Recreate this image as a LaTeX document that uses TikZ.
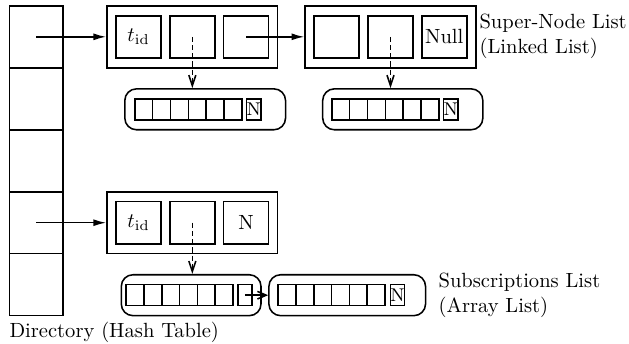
\documentclass[tikz,border=0pt]{standalone}
\usetikzlibrary{arrows.meta}

\tikzset{
    cell/.style={draw, minimum width=0.92cm, minimum height=1.06cm, inner sep=0pt},
    supernode/.style={draw, minimum width=2.92cm, minimum height=1.06cm, inner sep=0pt},
    slot/.style={draw, minimum width=0.77cm, minimum height=0.72cm, inner sep=0pt},
    arraylist/.style={draw, rounded corners=0.2cm, minimum height=0.70cm, inner sep=0pt},
    entry/.style={draw, minimum width=0.305cm, minimum height=0.36cm, inner sep=0pt},
    tail/.style={draw, minimum width=0.24cm, minimum height=0.36cm, inner sep=0pt, font=\small},
    link/.style={-{Latex[length=2.2mm,width=1.2mm]}},
    sublink/.style={dash pattern=on 2.5pt off 1.5pt, -{Straight Barb[length=1.8mm,width=1.2mm]}},
    label/.style={anchor=west, align=left, inner sep=0pt},
}

\begin{document}
\begin{tikzpicture}[line width=0.75pt]
    \useasboundingbox (0,0) rectangle (10.76,-5.87);

    % Directory
    \foreach \i in {1,...,5}
        \node[cell] (dir\i) at (0.62,{-0.63-1.06*(\i-1)}) {};
    \node[label] (dirlabel) at (0.15,-5.69) {Directory (Hash Table)};

    % Super-node list
    \node[supernode] (sn1) at (3.29,-0.63) {};
    \node[slot] (sn1a) at ([xshift=-0.92cm]sn1.center) {$t_{\mathrm{id}}$};
    \node[slot] (sn1b) at (sn1.center) {};
    \node[slot] (sn1c) at ([xshift=0.92cm]sn1.center) {};

    \node[supernode] (sn2) at (6.68,-0.63) {};
    \node[slot] (sn2a) at ([xshift=-0.92cm]sn2.center) {};
    \node[slot] (sn2b) at (sn2.center) {};
    \node[slot] (sn2c) at ([xshift=0.92cm]sn2.center) {Null};

    \node[supernode] (sn3) at (3.29,-3.81) {};
    \node[slot] (sn3a) at ([xshift=-0.92cm]sn3.center) {$t_{\mathrm{id}}$};
    \node[slot] (sn3b) at (sn3.center) {};
    \node[slot] (sn3c) at ([xshift=0.92cm]sn3.center) {N};

    \node[label] (snlabel) at (8.19,-0.62) {Super-Node List\\(Linked List)};

    % Subscription arrays
    \node[arraylist, minimum width=2.75cm] (arr1) at (3.51,-1.87) {};
    \foreach \i in {0,...,5}
        \node[entry] (arr1e\i) at ({2.46+0.305*\i},-1.87) {};
    \node[tail] (arr1n) at (4.34,-1.87) {N};

    \node[arraylist, minimum width=2.74cm] (arr2) at (6.89,-1.87) {};
    \foreach \i in {0,...,5}
        \node[entry] (arr2e\i) at ({5.83+0.305*\i},-1.87) {};
    \node[tail] (arr2n) at (7.71,-1.87) {N};

    \node[arraylist, minimum width=2.39cm] (arr3) at (3.27,-5.05) {};
    \foreach \i in {0,...,5}
        \node[entry] (arr3e\i) at ({2.31+0.305*\i},-5.05) {};
    \node[tail] (arr3p) at (4.19,-5.05) {};

    \node[arraylist, minimum width=2.68cm] (arr4) at (5.94,-5.05) {};
    \foreach \i in {0,...,5}
        \node[entry] (arr4e\i) at ({4.91+0.305*\i},-5.05) {};
    \node[tail] (arr4n) at (6.80,-5.05) {N};

    \node[label] (sublabel) at (7.49,-5.05) {Subscriptions List\\(Array List)};

    % Pointers
    \draw[link] (dir1.center) -- (sn1.west);
    \draw[link] (sn1c.center) -- (sn2.west);
    \draw[link] (dir4.center) -- (sn3.west);
    \draw[sublink] (sn1b.center) -- (sn1b.center |- arr1.north);
    \draw[sublink] (sn2b.center) -- (sn2b.center |- arr2.north);
    \draw[sublink] (sn3b.center) -- (sn3b.center |- arr3.north);
    \draw[-{Straight Barb[length=1.5mm,width=1.3mm]}] (arr3p.center) -- (arr4.west);
\end{tikzpicture}
\end{document}
